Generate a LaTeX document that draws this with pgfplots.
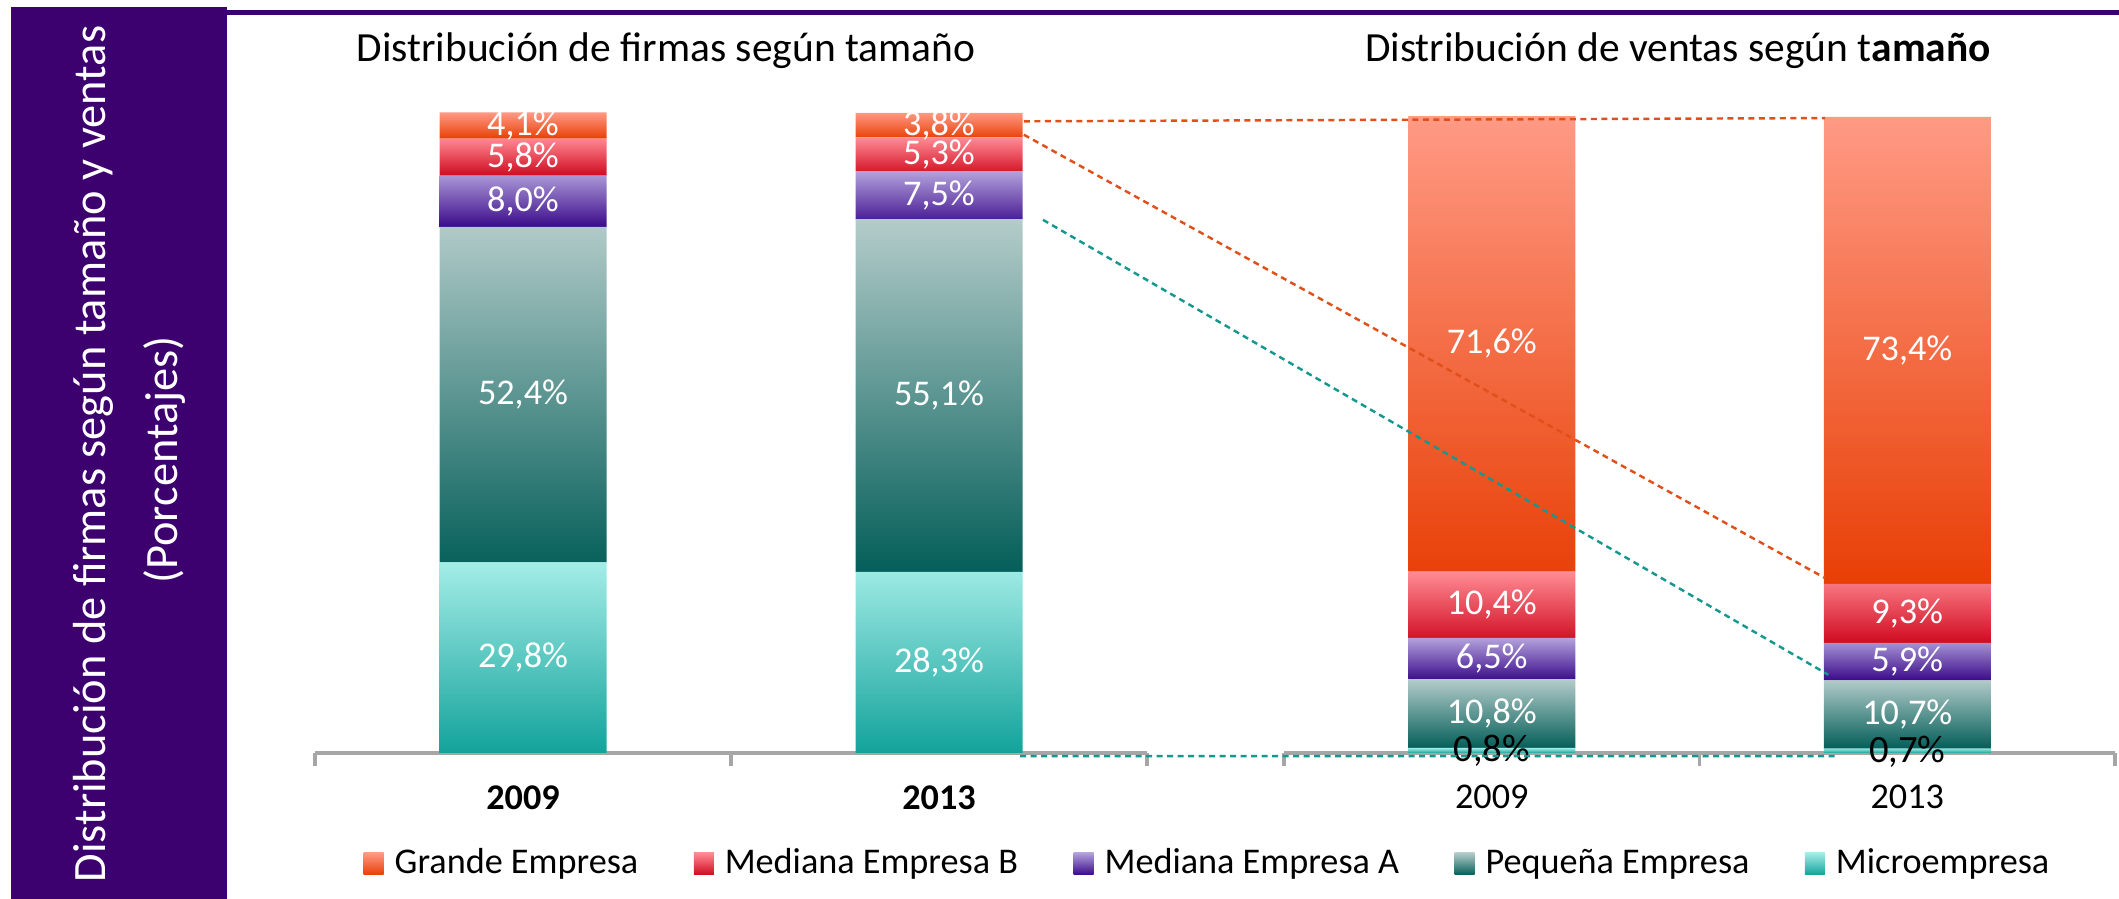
\documentclass[border=0pt]{standalone}
\usepackage{pgfplots}
\pgfplotsset{compat=1.18}
\usepackage{fontspec}
\setmainfont{Carlito}
\definecolor{panel}{HTML}{3D006F}
\definecolor{grT}{HTML}{FF9A85}\definecolor{grB}{HTML}{E83F05}
\definecolor{mbT}{HTML}{FF8C94}\definecolor{mbB}{HTML}{D00A20}
\definecolor{maT}{HTML}{B3A2DC}\definecolor{maB}{HTML}{3A0A8A}
\definecolor{peT}{HTML}{B4CCCA}\definecolor{peB}{HTML}{045E59}
\definecolor{miT}{HTML}{A4EDE7}\definecolor{miB}{HTML}{12A39B}
\definecolor{axgray}{HTML}{A6A6A6}
\definecolor{dor}{HTML}{E0501A}
\definecolor{dte}{HTML}{16988F}
\newcommand{\fs}{\fontsize{10.3}{12}\selectfont}

\pgfplotsset{
  geom/.style={scale only axis, anchor=south west, height=6.4cm,
    xmin=-0.5, xmax=1.5, ymin=0, ymax=100, clip=false},
  barax/.style={geom, ybar stacked, bar width=1.67cm,
    axis x line*=bottom, hide y axis,
    x axis line style={draw=axgray, line width=0.9pt},
    xtick={-0.5,0.5,1.5}, xticklabels={},
    major tick length=0.13cm, tick align=outside,
    tick style={draw=axgray, line width=0.9pt},
    extra x ticks={0,1},
    extra x tick style={major tick length=0pt, tick label style={yshift=-0.2cm}},
    tick label style={font=\fs},
  },
  labax/.style={geom, hide axis},
  seg/.style 2 args={draw=none, top color=#1, bottom color=#2},
  lab/.style={draw=none, mark=none, nodes near coords, point meta=explicit symbolic,
    every node near coord/.style={anchor=center, font=\fs, text=#1}},
}

\begin{document}
\begin{tikzpicture}
\useasboundingbox (0,0) rectangle (21.19,8.99);
% side panel
\fill[panel] (0.11,0) rectangle (2.27,8.92);
\draw[panel, line width=0.05cm] (2.27,8.86) -- (21.19,8.86);
\node[rotate=90, text=white, inner sep=0pt] at (0.93,4.45)
  {\fontsize{13.2}{16}\selectfont Distribución de firmas según tamaño y ventas};
\node[rotate=90, text=white, inner sep=0pt] at (1.65,4.39)
  {\fontsize{13.2}{16}\selectfont (Porcentajes)};
% titles
\node at (6.66,8.48) {\fontsize{11.8}{14}\selectfont Distribución de firmas según tamaño};
\node at (16.78,8.48) {\fontsize{11.8}{14}\selectfont Distribución de ventas según t\textbf{amaño}};

% ---------- left: firms ----------
\begin{axis}[barax, at={(3.15cm,1.46cm)}, width=8.32cm,
  extra x tick labels={\textbf{2009},\textbf{2013}},
  legend columns=-1, reverse legend,
  legend style={at={(0.0577,-0.173)}, anchor=west, draw=none, fill=none, font=\fs,
    inner sep=0pt, nodes={inner sep=0pt},
    /tikz/every odd column/.append style={column sep=0.11cm},
    /tikz/every even column/.append style={column sep=0.555cm}},
  legend image code/.code={\path[#1, draw=none] (0cm,-0.11cm) rectangle (0.2cm,0.11cm);}]
\addplot[seg={miT}{miB}] coordinates {(0,29.8) (1,28.3)};
\addplot[seg={peT}{peB}] coordinates {(0,52.4) (1,55.1)};
\addplot[seg={maT}{maB}] coordinates {(0,8.0) (1,7.5)};
\addplot[seg={mbT}{mbB}] coordinates {(0,5.8) (1,5.3)};
\addplot[seg={grT}{grB}] coordinates {(0,4.1) (1,3.8)};
\legend{Microempresa, Pequeña Empresa, Mediana Empresa A, Mediana Empresa B, Grande Empresa}
\coordinate (o1s) at (axis cs:1.204,98.7);
\coordinate (o2s) at (axis cs:1.204,96.6);
\coordinate (t1s) at (axis cs:1.25,83.3);
\coordinate (t2s) at (axis cs:1.195,-0.5);
\end{axis}
\begin{axis}[labax, at={(3.15cm,1.46cm)}, width=8.32cm]
\addplot[lab=white] coordinates {
 (0,14.9)[29,8\%] (0,56.0)[52,4\%] (0,86.2)[8,0\%] (0,93.1)[5,8\%] (0,98.05)[4,1\%]
 (1,14.15)[28,3\%] (1,55.85)[55,1\%] (1,87.15)[7,5\%] (1,93.55)[5,3\%] (1,98.1)[3,8\%]};
\end{axis}

% ---------- right: sales ----------
\begin{axis}[barax, at={(12.84cm,1.46cm)}, width=8.31cm, ymax=100.6,
  extra x tick labels={2009,2013}]
\addplot[seg={miT}{miB}] coordinates {(0,0.8) (1,0.7)};
\addplot[seg={peT}{peB}] coordinates {(0,10.8) (1,10.7)};
\addplot[seg={maT}{maB}] coordinates {(0,6.5) (1,5.9)};
\addplot[seg={mbT}{mbB}] coordinates {(0,10.4) (1,9.3)};
\addplot[seg={grT}{grB}] coordinates {(0,71.6) (1,73.4)};
\coordinate (o1e) at (axis cs:0.802,99.8);
\coordinate (o2e) at (axis cs:0.802,27.5);
\coordinate (t1e) at (axis cs:0.81,12.3);
\coordinate (t2e) at (axis cs:0.83,-0.5);
\end{axis}
\begin{axis}[labax, at={(12.84cm,1.46cm)}, width=8.31cm, ymax=100.6]
\addplot[lab=white] coordinates {
 (0,6.2)[10,8\%] (0,14.85)[6,5\%] (0,23.3)[10,4\%] (0,64.3)[71,6\%]
 (1,6.05)[10,7\%] (1,14.35)[5,9\%] (1,21.95)[9,3\%] (1,63.3)[73,4\%]};
\addplot[lab=black, every node near coord/.append style={font=\fontsize{11}{13}\selectfont}]
  coordinates {(0,0.3)[0,8\%] (1,0.25)[0,7\%]};
\end{axis}

% connectors
\begin{scope}[line width=0.7pt, dash pattern=on 0.06cm off 0.045cm]
\draw[dor] (o1s) -- (o1e);
\draw[dor] (o2s) -- (o2e);
\draw[dte] (t1s) -- (t1e);
\draw[dte] (t2s) -- (t2e);
\end{scope}
\end{tikzpicture}
\end{document}
